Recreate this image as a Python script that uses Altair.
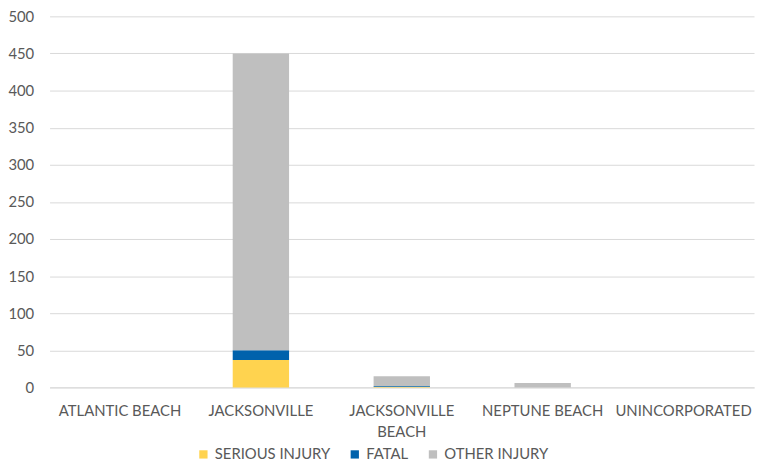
import altair as alt
import pandas as pd

cities = ["ATLANTIC BEACH", "JACKSONVILLE", "JACKSONVILLE BEACH", "NEPTUNE BEACH", "UNINCORPORATED"]
serious = [0, 37, 1, 0, 0]
fatal = [0, 13, 1, 0, 0]
other = [0, 400, 13, 6, 0]
series = ["SERIOUS INJURY", "FATAL", "OTHER INJURY"]
colors = ["#FFD34F", "#0062AC", "#BFBFBF"]

rows = []
for i, c in enumerate(cities):
    for k, (s, vals) in enumerate(zip(series, [serious, fatal, other])):
        rows.append({"city": c, "series": s, "value": vals[i], "order": k})
df = pd.DataFrame(rows)

font = "Lato"
fs = 15
chart = alt.Chart(df).mark_bar().encode(
    x=alt.X("city:N", sort=cities, title=None,
            scale=alt.Scale(paddingInner=0.6, paddingOuter=0.3),
            axis=alt.Axis(labelAngle=0, labelFontSize=fs, labelColor="#595959",
                          labelFont=font, ticks=False, domainColor="#D9D9D9",
                          labelPadding=16, labelLineHeight=22, labelOverlap=False,
                          labelExpr="datum.label == 'JACKSONVILLE BEACH' ? ['JACKSONVILLE', 'BEACH'] : datum.label")),
    y=alt.Y("value:Q", stack="zero", title=None,
            scale=alt.Scale(domain=[0, 500]),
            axis=alt.Axis(values=list(range(0, 501, 50)), labelFontSize=fs, labelColor="#595959",
                          labelFont=font, ticks=False, domain=False, gridColor="#D9D9D9",
                          labelPadding=16)),
    color=alt.Color("series:N", sort=series,
                    scale=alt.Scale(domain=series, range=colors),
                    legend=alt.Legend(title=None, orient="none", direction="horizontal",
                                      legendX=148, legendY=435, symbolType="square",
                                      symbolSize=70, symbolStrokeWidth=0, labelFontSize=fs,
                                      labelColor="#595959", labelFont=font,
                                      columnPadding=17, labelOffset=4)),
    order=alt.Order("order:Q"),
).properties(
    width=712, height=375,
    autosize=alt.AutoSizeParams(type="none"),
    padding={"left": 42, "top": 6, "right": 1, "bottom": 77},
).configure_view(stroke=None)

chart.save("out.html", embed_options={"renderer": "svg", "actions": False})
